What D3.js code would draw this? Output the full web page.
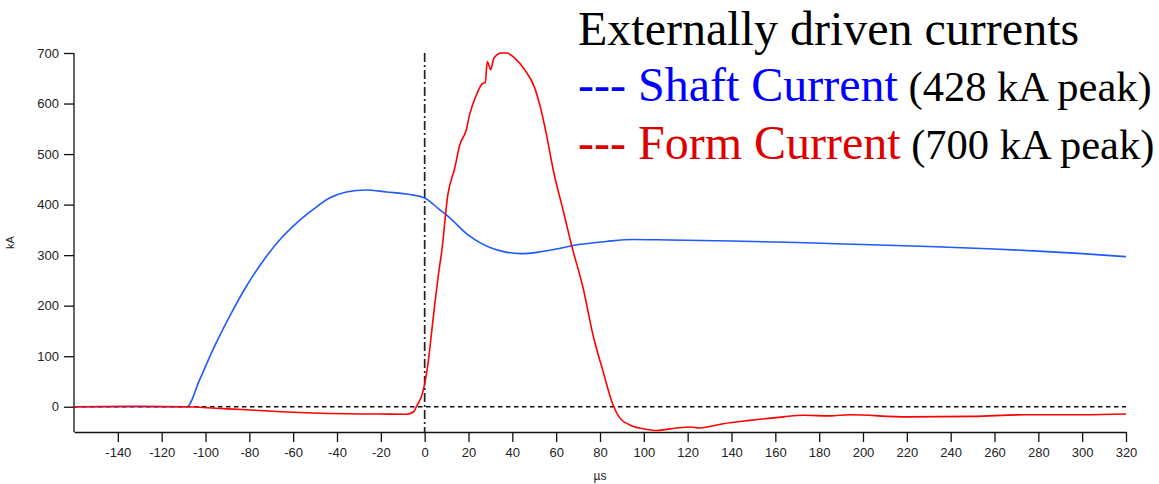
<!DOCTYPE html>
<html>
<head>
<meta charset="utf-8">
<script src="https://cdn.jsdelivr.net/npm/d3@7"></script>
<style>
	body { margin: 0; background: #fff; }
	.tick text { font-family: "Liberation Sans", Arial, sans-serif; font-size: 13px; fill: #222; }
	.legend { font-family: "Liberation Serif", "Times New Roman", serif; }
</style>
</head>
<body>
<div class="chart"></div>
<script>

// time in µs, current in kA
const shaftTime = [-160, -130, -108.5, -102.7, -96.6, -89, -81.4, -73.8, -66.2, -58.6, -51, -43.4, -35.7, -26.6, -17.5, -6.8, 0, 6.8, 10.6, 19.8, 30.4, 37, 44, 52, 60, 67.7, 82.9, 95, 112, 140, 170, 200, 230, 260, 280, 300, 320];
const shaftKA = [0, 0, 0, 53, 113, 179, 238, 288, 330, 363, 390, 413, 425, 429, 425, 420, 413, 390, 377, 340, 314, 306, 303, 306, 312, 319, 327, 331, 330, 328, 325, 321, 317, 312, 308, 303, 297];

const formTime = [-160, -130, -108.8, -95, -81.4, -60, -51, -35, -20.5, -8.4, -5, -3.8, -0.8, 1.5, 3.8, 4.6, 6.8, 7.6, 10.6, 13.7, 16, 19, 20.5, 23.6, 26.6, 27.6, 28.6, 30.1, 31.6, 35, 37.3, 41.1, 45.6, 50.2, 52.5, 55.5, 58.6, 63.5, 67, 72.3, 76.8, 81.4, 86, 89, 93.6, 99.7, 105.8, 114.9, 121, 125.5, 136.2, 148.4, 163.6, 172.7, 184.9, 194, 219.9, 250.3, 273.1, 301, 320];
const formKA = [0, 1, 0, -3, -6, -11, -12.5, -14, -14.5, -15, -10, 0, 30, 85, 172, 202, 278, 301, 420, 472, 518, 548, 578, 617, 640, 641, 683, 667, 690, 700, 700, 690, 667, 631, 598, 540, 470, 383, 320, 235, 142, 70, 3, -22, -36, -43.5, -47, -42, -40, -42, -33.6, -27, -20, -17, -18, -16, -20, -19, -16, -16, -14.5];

const xTicks = d3.range(-140, 321, 20);
const yTicks = [0, 100, 200, 300, 400, 500, 600, 700];

const width = 1159;
const height = 484;
const margin = {left: 74, right: 33, top: 53, bottom: 52};

const svg = d3.select('.chart').append('svg')
	.attr('width', width)
	.attr('height', height);

svg.append('rect')
	.attr('width', width)
	.attr('height', height)
	.attr('fill', '#fff');

const x = d3.scaleLinear()
	.domain([-160, 320])
	.range([margin.left, width - margin.right]);

const y = d3.scaleLinear()
	.domain([-50, 700])
	.range([height - margin.bottom, margin.top]);

// reference lines
svg.append('line')
	.attr('x1', x(-160))
	.attr('x2', x(320))
	.attr('y1', y(0))
	.attr('y2', y(0))
	.attr('stroke', '#111')
	.attr('stroke-width', 1.4)
	.attr('stroke-dasharray', '4.5,3.5');

svg.append('line')
	.attr('x1', x(0))
	.attr('x2', x(0))
	.attr('y1', y(700))
	.attr('y2', y(-50))
	.attr('stroke', '#222')
	.attr('stroke-width', 1.7)
	.attr('stroke-dasharray', '9,3,2,3');

// axes
const xAxis = svg.append('g')
	.attr('transform', `translate(0,${y(-50)})`)
	.call(d3.axisBottom(x).tickValues(xTicks).tickSize(10).tickPadding(6).tickSizeOuter(0).tickFormat(d => String(d)));

const yAxis = svg.append('g')
	.attr('transform', `translate(${x(-160)},0)`)
	.call(d3.axisLeft(y).tickValues(yTicks).tickSize(10).tickPadding(5).tickSizeOuter(0).tickFormat(d => String(d)));

[xAxis, yAxis].forEach(function(g) {
	g.select('.domain').attr('stroke', '#111').attr('stroke-width', 1.3);
	g.selectAll('.tick line').attr('stroke', '#111').attr('stroke-width', 1.3);
});

// y axis line only spans the data range
yAxis.select('.domain').attr('d', `M0,${y(700)}V${y(-50)}`);

svg.append('text')
	.text('µs')
	.attr('x', (x(-160) + x(320)) / 2)
	.attr('y', 480)
	.attr('text-anchor', 'middle')
	.attr('font-family', 'Liberation Sans, Arial, sans-serif')
	.attr('font-size', 12)
	.attr('fill', '#222');

svg.append('text')
	.text('kA')
	.attr('transform', `translate(14,${(y(700) + y(-50)) / 2}) rotate(-90)`)
	.attr('text-anchor', 'middle')
	.attr('font-family', 'Liberation Sans, Arial, sans-serif')
	.attr('font-size', 11)
	.attr('fill', '#222');

// traces
const line = d3.line()
	.x(d => x(d[0]))
	.y(d => y(d[1]))
	.curve(d3.curveMonotoneX);

svg.append('path')
	.datum(d3.zip(shaftTime, shaftKA))
	.attr('d', line)
	.attr('fill', 'none')
	.attr('stroke', '#1e5aff')
	.attr('stroke-width', 1.6);

svg.append('path')
	.datum(d3.zip(formTime, formKA))
	.attr('d', line)
	.attr('fill', 'none')
	.attr('stroke', '#ff0000')
	.attr('stroke-width', 1.6);

// legend
const legend = svg.append('g').attr('class', 'legend');

legend.append('text')
	.text('Externally driven currents')
	.attr('x', 578)
	.attr('y', 45)
	.attr('font-size', 48)
	.attr('fill', '#000');

const rows = [
	{label: '--- Shaft Current', note: ' (428 kA peak)', color: '#0000ff', y: 101},
	{label: '--- Form Current', note: ' (700 kA peak)', color: '#dd0000', y: 159}
];

rows.forEach(function(r) {
	const t = legend.append('text')
		.attr('x', 578)
		.attr('y', r.y);
	t.append('tspan')
		.text(r.label)
		.attr('font-size', 48)
		.attr('fill', r.color);
	t.append('tspan')
		.text(r.note)
		.attr('font-size', 42.5)
		.attr('fill', '#000');
});

</script>
</body>
</html>
